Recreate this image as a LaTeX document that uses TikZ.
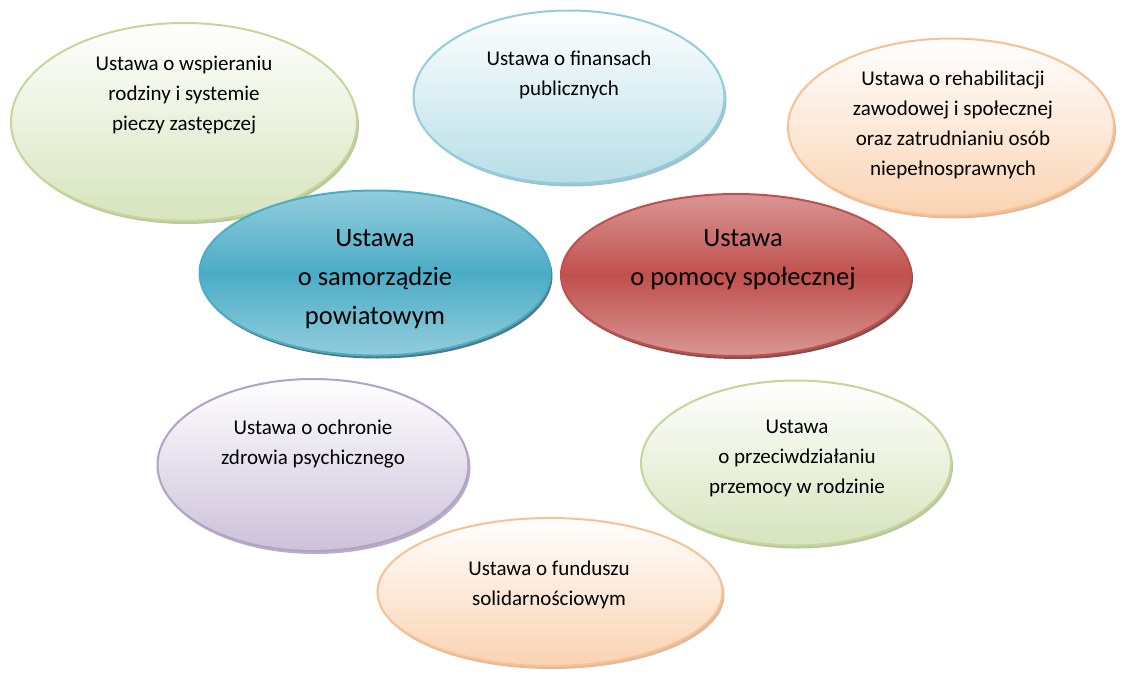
\documentclass[tikz,border=0pt]{standalone}
\usepackage{fontspec}
\setmainfont{Carlito}
\usetikzlibrary{shapes.geometric,shadows}
\definecolor{grnB}{HTML}{C3D69B} \definecolor{grnF}{HTML}{D7E4BD} \definecolor{grnS}{HTML}{8EA35E}
\definecolor{bluB}{HTML}{93CDDD} \definecolor{bluF}{HTML}{B7DEE8} \definecolor{bluS}{HTML}{5F9AAA}
\definecolor{orgB}{HTML}{FAC090} \definecolor{orgF}{HTML}{FAD3B2} \definecolor{orgS}{HTML}{C98E5C}
\definecolor{purB}{HTML}{B3A2C7} \definecolor{purF}{HTML}{CCC1DA} \definecolor{purS}{HTML}{8A7A9E}
\definecolor{tealM}{HTML}{4BACC6} \definecolor{tealL}{HTML}{93CDDD} \definecolor{tealS}{HTML}{215968}
\definecolor{redM}{HTML}{C0504D} \definecolor{redL}{HTML}{D99694} \definecolor{redS}{HTML}{632523}
\begin{document}
\begin{tikzpicture}[x=1pt,y=-1pt,
    el/.style={ellipse, inner sep=0pt, line width=2pt},
    outer/.style={el, draw=#1B, top color=white, bottom color=#1F,
        drop shadow={shadow xshift=2pt, shadow yshift=-3pt, fill=#1S, opacity=.6}},
    center/.style={el, draw=#1M, top color=#1L, bottom color=#1L, middle color=#1M,
        drop shadow={shadow xshift=2pt, shadow yshift=-3pt, fill=#1S, opacity=.8}},
    txt/.style={align=center, font=\fontsize{21}{30}\selectfont},
    big/.style={align=center, font=\fontsize{26.5}{39}\selectfont}]
    \useasboundingbox (0,0) rectangle (1123,677);
    % outer laws
    \node[outer=grn, minimum width=346, minimum height=198] (wsp) at (184,122) {};
    \node[outer=blu, minimum width=311, minimum height=173] (fin) at (569,97) {};
    \node[outer=org, minimum width=326, minimum height=177] (reh) at (951,127) {};
    \node[outer=pur, minimum width=311, minimum height=172] (zdr) at (313,465) {};
    \node[outer=grn, minimum width=310, minimum height=165] (prz) at (796,463) {};
    % central laws
    \node[center=teal, minimum width=351, minimum height=165] (pow) at (375,273) {};
    \node[center=red, minimum width=350, minimum height=162] (pom) at (736,275) {};
    \node[outer=org, minimum width=345, minimum height=148] (fun) at (550,592) {};
    % texts
    \node[txt] (wspt) at (184,95) {Ustawa o wspieraniu\\rodziny i systemie\\pieczy zastępczej};
    \node[txt] (fint) at (569,75) {Ustawa o finansach\\publicznych};
    \node[txt] (reht) at (953,125) {Ustawa o rehabilitacji\\zawodowej i społecznej\\oraz zatrudnianiu osób\\niepełnosprawnych};
    \node[txt] (zdrt) at (313,444) {Ustawa o ochronie\\zdrowia psychicznego};
    \node[txt] (przt) at (797,458) {Ustawa\\o przeciwdziałaniu\\przemocy w rodzinie};
    \node[txt] (funt) at (549,585) {Ustawa o funduszu\\solidarnościowym};
    \node[big] (powt) at (375,279) {Ustawa\\o samorządzie\\powiatowym};
    \node[big] (pomt) at (743,260) {Ustawa\\o pomocy społecznej};
\end{tikzpicture}
\end{document}
